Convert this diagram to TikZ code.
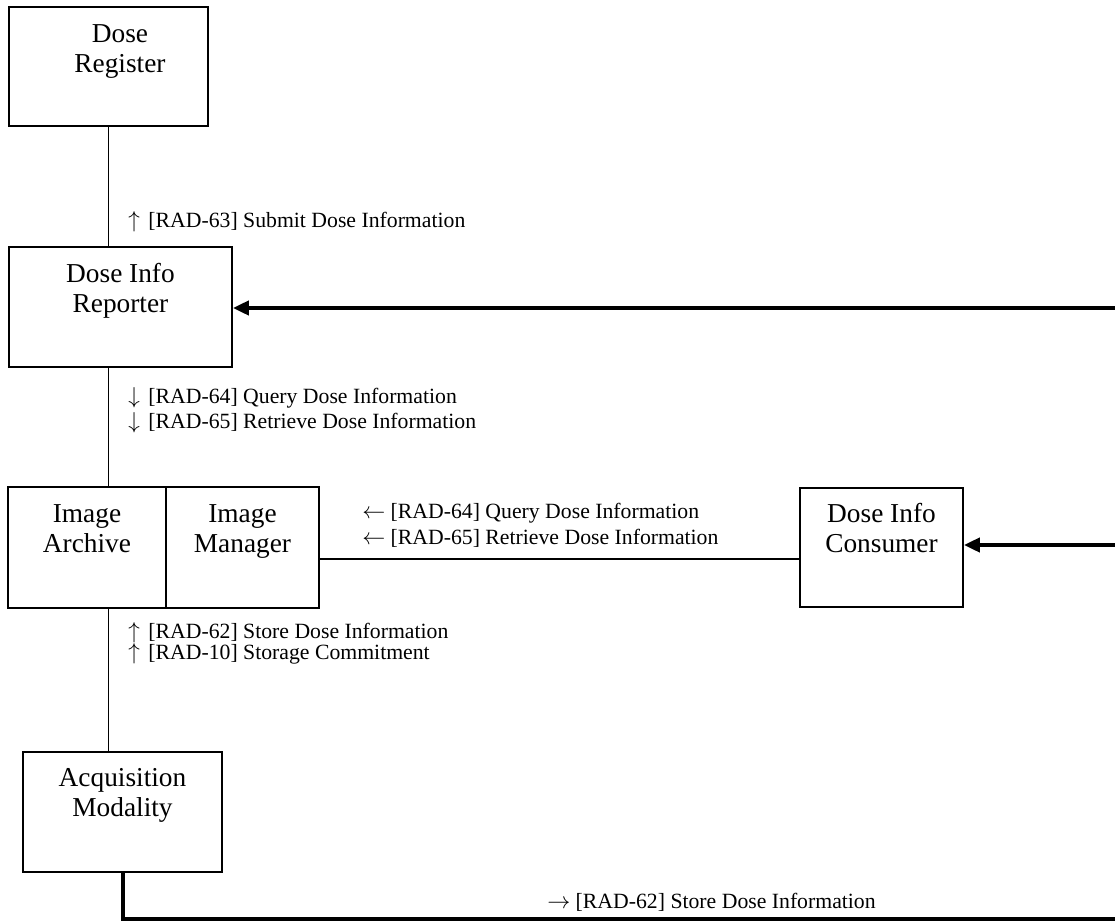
\documentclass[tikz,border=0pt]{standalone}
\usepackage{fontspec}
\setmainfont{Liberation Serif}
\usetikzlibrary{arrows.meta}
\newcommand{\vup}{$\uparrow$\hspace{6.5pt}}
\newcommand{\vdown}{$\downarrow$\hspace{6.5pt}}
\newcommand{\twol}[2]{\strut #1\\\strut #2}
\begin{document}
\begin{tikzpicture}[x=0.75pt,y=-0.75pt,
  box/.style={draw, line width=1.3pt, inner sep=0pt},
  boxtext/.style={align=center, inner sep=0pt, font=\fontsize{20.5}{22.5}\selectfont},
  lbl/.style={anchor=west, inner sep=0pt, font=\fontsize{16.3}{19}\selectfont},
  conn/.style={line width=1.1pt},
  bold/.style={line width=3pt, line join=miter},
  boldarrow/.style={line width=3pt, -{Triangle[length=12pt,width=10.5pt]}}]
\useasboundingbox (0,0) rectangle (1115,921);
% boxes
\node[box, minimum width=149.25pt, minimum height=89.25pt] (reg) at (108.5,66.5) {};
\node[box, minimum width=167.25pt, minimum height=90pt] (rep) at (120.5,307) {};
\node[box, minimum width=118.5pt, minimum height=90.75pt] (arch) at (87,547.5) {};
\node[box, minimum width=114.75pt, minimum height=90.75pt] (mgr) at (242.5,547.5) {};
\node[box, minimum width=122.25pt, minimum height=89.25pt] (cons) at (881.5,547.5) {};
\node[box, minimum width=149.25pt, minimum height=90pt] (acq) at (122.5,812) {};
% box texts
\node[boxtext] (regt) at (120,51) {\twol{Dose}{Register}};
\node[boxtext] (rept) at (120.5,291) {\twol{Dose Info}{Reporter}};
\node[boxtext] (archt) at (87,531) {\twol{Image}{Archive}};
\node[boxtext] (mgrt) at (242.5,531) {\twol{Image}{Manager}};
\node[boxtext] (const) at (881.5,531) {\twol{Dose Info}{Consumer}};
\node[boxtext] (acqt) at (122.5,795) {\twol{Acquisition}{Modality}};
% connectors
\draw[conn] (reg.south) -- (reg.south |- rep.north);
\draw[conn] (reg.south |- rep.south) -- (reg.south |- arch.north);
\draw[conn] (reg.south |- arch.south) -- (reg.south |- acq.north);
\coordinate (c1) at (500,559);
\draw[conn] (c1 -| mgr.east) -- (c1 -| cons.west);
\coordinate (e1) at (1118,308);
\coordinate (e2) at (1118,545);
\coordinate (e3) at (1118,919);
\draw[boldarrow] (e1) -- (e1 -| rep.east);
\draw[boldarrow] (e2) -- (e2 -| cons.east);
\draw[bold] (acq.south) |- (e3);
% labels
\node[lbl] (l1) at (128,222) {\vup[RAD-63] Submit Dose Information};
\node[lbl] (l2) at (128,398) {\vdown[RAD-64] Query Dose Information};
\node[lbl] (l3) at (128,423) {\vdown[RAD-65] Retrieve Dose Information};
\node[lbl] (l4) at (362,513) {$\leftarrow$ [RAD-64] Query Dose Information};
\node[lbl] (l5) at (362,538) {$\leftarrow$ [RAD-65] Retrieve Dose Information};
\node[lbl] (l6) at (128,633) {\vup[RAD-62] Store Dose Information};
\node[lbl] (l7) at (128,654) {\vup[RAD-10] Storage Commitment};
\node[lbl] (l8) at (547,902) {$\rightarrow$ [RAD-62] Store Dose Information};
\end{tikzpicture}
\end{document}
